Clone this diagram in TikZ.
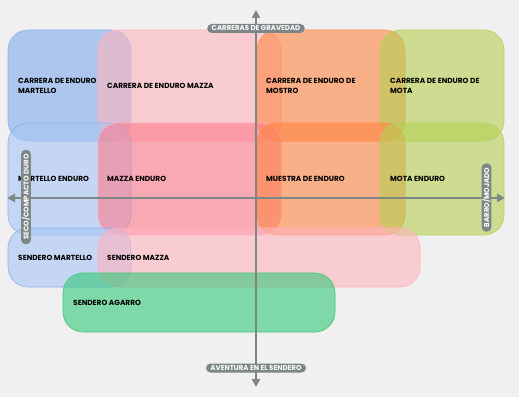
\documentclass[tikz,border=0pt]{standalone}
\usepackage{fontspec}
\setmainfont{Poppins}
\usetikzlibrary{arrows.meta,positioning}
\definecolor{bgc}{HTML}{F0F0F0}
\definecolor{axc}{HTML}{7D8787}
\definecolor{blueA}{HTML}{80AAEE}
\definecolor{blueB}{HTML}{A8C6F5}
\definecolor{blueL}{HTML}{8AB2EE}
\definecolor{pinkA}{HTML}{FFB4BE}
\definecolor{pinkB}{HTML}{FF7B8C}
\definecolor{pinkL}{HTML}{FFB0BA}
\definecolor{orA}{HTML}{FF8543}
\definecolor{orL}{HTML}{FF9050}
\definecolor{grA}{HTML}{B6CF52}
\definecolor{grL}{HTML}{B8D060}
\definecolor{agA}{HTML}{35C878}
\definecolor{agL}{HTML}{3CC878}
\tikzset{
  box/.style={rounded corners=20pt, fill opacity=0.6, line width=0.6pt},
  lbl/.style={anchor=west, font=\fontsize{7.4}{10}\selectfont\bfseries, text=black, align=left, inner sep=0pt},
  axis/.style={draw=axc, line width=2pt},
  pill/.style={fill=axc, text=white, rounded corners=4.5pt, font=\fontsize{7}{7}\selectfont\bfseries, inner xsep=4.5pt, inner ysep=1pt, minimum height=9pt}
}
\begin{document}
\begin{tikzpicture}[x=1pt,y=-1pt]
\useasboundingbox (0,0) rectangle (519,409);
\fill[white] (0,0) rectangle (519,409);
\fill[bgc] (0,0) rectangle (519,397);
% top row
\path[box, fill=blueA, draw=blueL] (8,30) rectangle (131,141);
\path[box, fill=pinkA, draw=pinkL] (98,30) rectangle (281,141);
\path[box, fill=orA, draw=orL] (257,30) rectangle (405,141);
\path[box, fill=grA, draw=grL] (380,30) rectangle (504,141);
% middle row
\path[box, fill=blueB, draw=blueL] (8,123) rectangle (131,235);
\path[box, fill=pinkB, draw=pinkL] (98,123) rectangle (281,235);
\path[box, fill=orA, draw=orL] (257,123) rectangle (405,235);
\path[box, fill=grA, draw=grL] (380,123) rectangle (504,235);
% bottom row
\path[box, fill=blueB, draw=blueL] (8,228) rectangle (131,287);
\path[box, fill=pinkA, draw=pinkL] (98,228) rectangle (420,287);
\path[box, fill=agA, draw=agL] (63,273) rectangle (335,332);
% labels
\node[lbl] (t1) at (18,85.5) {CARRERA DE ENDURO\\MARTELLO};
\node[lbl] (t2) at (107,85.5) {CARRERA DE ENDURO MAZZA};
\node[lbl] (t3) at (266,85.5) {CARRERA DE ENDURO DE\\MOSTRO};
\node[lbl] (t4) at (390,85.5) {CARRERA DE ENDURO DE\\MOTA};
\node[lbl] (t5) at (18,179) {MARTELLO ENDURO};
\node[lbl] (t6) at (107,179) {MAZZA ENDURO};
\node[lbl] (t7) at (266,179) {MUESTRA DE ENDURO};
\node[lbl] (t8) at (390,179) {MOTA ENDURO};
\node[lbl] (t9) at (18,257.5) {SENDERO MARTELLO};
\node[lbl] (t10) at (107,257.5) {SENDERO MAZZA};
\node[lbl] (t11) at (73,302.5) {SENDERO AGARRO};
% axes
\coordinate (top) at (256,10);
\coordinate (bot) at (256,387);
\coordinate (lft) at (7,198);
\coordinate (rgt) at (505,198);
\draw[axis, {Triangle[length=8pt,width=8pt]}-{Triangle[length=8pt,width=8pt]}] (top) -- (bot);
\draw[axis, {Triangle[length=8pt,width=8pt]}-{Triangle[length=8pt,width=8pt]}] (lft) -- (rgt);
% pills
\node[pill] (pt) at (256,28.5) {CARRERAS DE GRAVEDAD};
\node[pill] (pb) at (256,368) {AVENTURA EN EL SENDERO};
\node[pill, rotate=90] (pl) at (26,197) {SECO/COMPACTO DURO};
\node[pill, rotate=90] (pr) at (486.5,197.5) {BARRO/MOJADO};
\end{tikzpicture}
\end{document}
